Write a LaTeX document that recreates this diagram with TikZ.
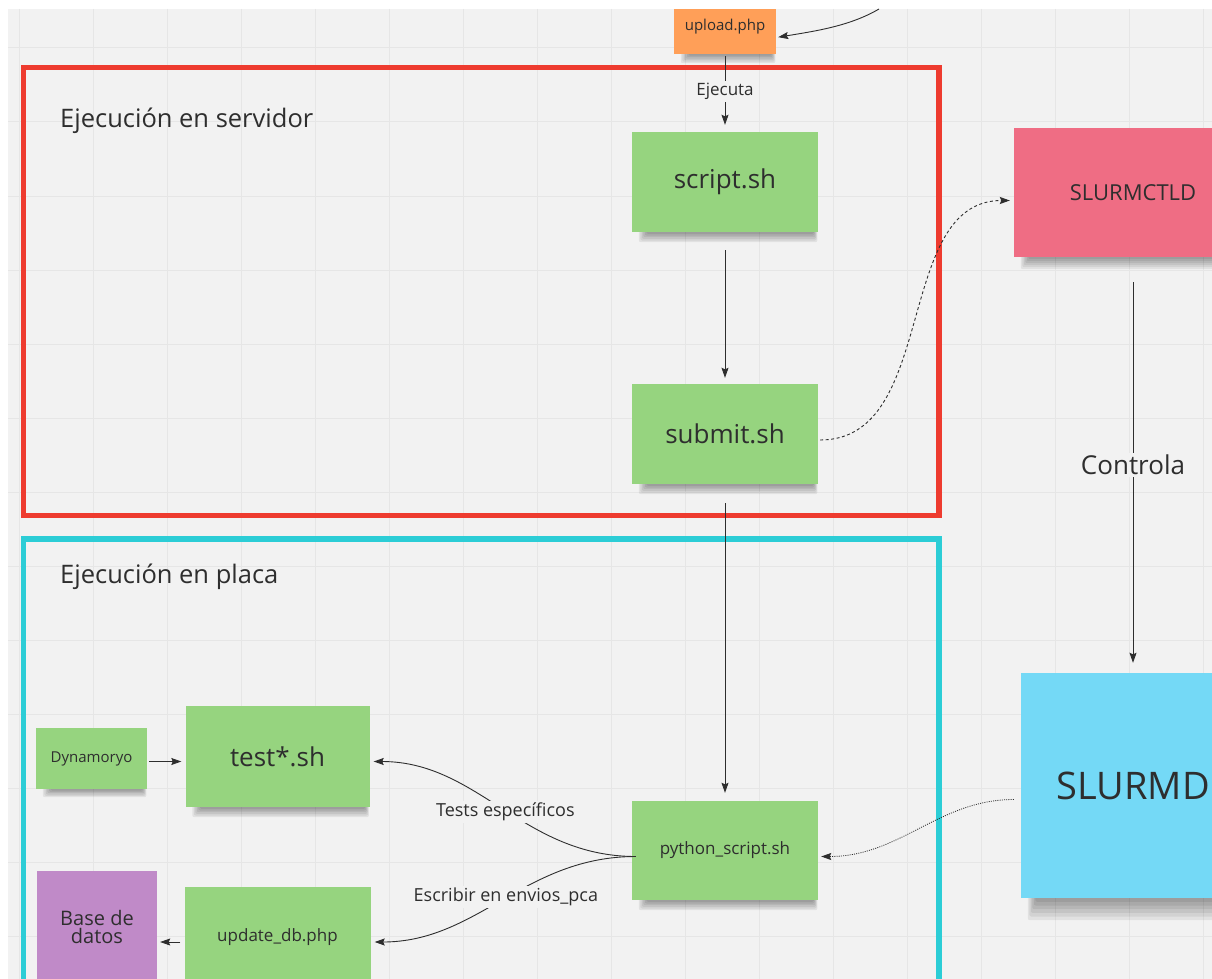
\documentclass[tikz,border=0pt]{standalone}
\usepackage{fontspec}
\setmainfont{Open Sans}
\usetikzlibrary{arrows.meta}

\definecolor{boardbg}{HTML}{F2F2F2}
\definecolor{gridline}{HTML}{E6E6E6}
\definecolor{ink}{HTML}{2E2E2E}
\definecolor{notegreen}{HTML}{96D47F}
\definecolor{noteorange}{HTML}{FF9F58}
\definecolor{notepink}{HTML}{EF6D84}
\definecolor{noteblue}{HTML}{74D9F6}
\definecolor{notepurple}{HTML}{C08AC8}
\definecolor{framered}{HTML}{EE3B2F}
\definecolor{framecyan}{HTML}{2CCDD6}

\pgfdeclarelayer{board}
\pgfdeclarelayer{shade}
\pgfsetlayers{board,shade,main}

\newcommand{\fs}[1]{\fontsize{#1}{#1}\selectfont}

% soft shadow under a sticky note: #1 node name, #2 depth below the note
\newcommand{\noteshadow}[2]{%
  \foreach \k in {1,...,6}{%
    \fill[black, opacity=0.065, rounded corners=2pt]
      ([xshift={(16-1.5*\k)*1pt}, yshift=10pt]#1.south west) rectangle
      ([xshift={(-5+0.7*\k)*1pt}, yshift={-(#2)*\k/6*1pt}]#1.south east);
  }}

\tikzset{
  note/.style={draw=none, inner sep=0pt, align=center, text=ink},
  frame/.style={line width=5.5pt},
  conn/.style={draw=ink, line width=0.9pt, -{Stealth[length=10pt,width=7pt,inset=1.5pt]}},
  dashconn/.style={conn, dash pattern=on 3pt off 2.5pt},
  dotconn/.style={conn, line width=0.8pt, dash pattern=on 1pt off 1.2pt},
  lbl/.style={fill=boardbg, inner sep=2pt, text=ink},
  title/.style={anchor=base west, inner sep=0pt, text=ink, font=\fs{25.5}},
}

\begin{document}
\begin{tikzpicture}[x=1pt,y=-1pt]
\useasboundingbox (0,0) rectangle (1212,979);

% board with grid
\begin{pgfonlayer}{board}
\fill[white] (0,0) rectangle (1212,979);
\fill[boardbg] (8,9) rectangle (1212,979);
\foreach \gx in {19,93,...,1212} \draw[gridline, line width=1pt] (\gx,9) -- (\gx,979);
\foreach \gy in {48,122,...,979} \draw[gridline, line width=1pt] (8,\gy) -- (1212,\gy);
\end{pgfonlayer}

% frames
\draw[framered, frame] (23.5,67.5) rectangle (939,515.5);
\draw[framecyan, frame] (23.5,539) rectangle (939,1010);
\node[title] (srvtitle) at (60,128) {Ejecución en servidor};
\node[title] (boardtitle) at (60,583) {Ejecución en placa};

% sticky notes
\node[note, fill=noteorange, minimum width=102pt, minimum height=45pt, font=\fs{15}] (upload) at (725,31.5) {\raisebox{13pt}{upload.php}};
\node[note, fill=notegreen, minimum width=186pt, minimum height=100pt, font=\fs{26}] (script) at (725,182) {script.sh};
\node[note, fill=notegreen, minimum width=186pt, minimum height=100pt, font=\fs{26}] (submit) at (725,434) {submit.sh};
\node[note, fill=notegreen, minimum width=186pt, minimum height=99pt, font=\fs{17}] (python) at (725,850.5) {python\_script.sh};
\node[note, fill=notegreen, minimum width=184pt, minimum height=101pt, font=\fs{26}] (test) at (277.5,756.5) {test*.sh};
\node[note, fill=notegreen, minimum width=111pt, minimum height=61pt, font=\fs{15}] (dyn) at (91.5,758.5) {Dynamoryo};
\node[note, fill=notegreen, minimum width=186pt, minimum height=100pt, font=\fs{17}] (updb) at (277.5,937) {update\_db.php};
\node[note, fill=notepurple, minimum width=120pt, minimum height=112pt, font=\fs{20}, text depth=0pt] (db) at (97,927) {Base de\\[-2pt]datos};
\node[note, fill=notepink, minimum width=238pt, minimum height=129pt, font=\fs{22}] (ctld) at (1133,192.5) {SLURMCTLD};
\node[note, fill=noteblue, minimum width=224pt, minimum height=225pt, font=\fs{38}] (slurmd) at (1133,785.5) {SLURMD};

\begin{pgfonlayer}{shade}
\noteshadow{upload}{9}
\noteshadow{script}{10}
\noteshadow{submit}{10}
\noteshadow{python}{10}
\noteshadow{test}{10}
\noteshadow{dyn}{8}
\noteshadow{ctld}{12}
\noteshadow{slurmd}{22}
\end{pgfonlayer}

% connectors
\coordinate (feed) at (879,9);
\draw[conn, shorten >=2pt] (feed) .. controls (850,26) and (816,31) .. ([yshift=-6pt]upload.east);
\draw[conn, shorten <=2pt, shorten >=7pt] (upload) -- node[lbl, font=\fs{17}, pos=0.48] {Ejecuta} (script);
\draw[conn, shorten <=18pt, shorten >=6pt] (script) -- (submit);
\draw[dashconn, shorten <=2pt, shorten >=4pt] ([yshift=-6pt]submit.east) to[out=0, in=180] ([yshift=-8pt]ctld.west);
\draw[conn, shorten <=19pt, shorten >=8pt] (submit) -- (python);
\draw[conn, shorten <=25pt, shorten >=10pt] (ctld) -- node[lbl, font=\fs{26}, pos=0.5] {Controla} (slurmd);
\draw[dotconn, shorten <=7pt, shorten >=3pt] ([yshift=-14pt]slurmd.west) to[out=180, in=0] ([yshift=-6pt]python.east);
\draw[conn, shorten <=-4pt, shorten >=4pt] ([yshift=-6pt]python.west) to[out=180, in=0]
  node[lbl, font=\fs{18}, pos=0.48] {Tests específicos} ([yshift=-5pt]test.east);
\draw[conn, shorten <=-4pt, shorten >=4pt] ([yshift=-6pt]python.west) to[out=180, in=0]
  node[lbl, font=\fs{18}, pos=0.48] {Escribir en envios\_pca} ([yshift=-5pt]updb.east);
\draw[conn, line width=0.7pt, shorten <=2pt, shorten >=4pt] ([yshift=-3pt]dyn.east) -- ([yshift=-5pt]test.west);
\draw[conn, line width=0.7pt, shorten <=4pt, shorten >=3pt] ([yshift=-5pt]updb.west) -- ([yshift=-15pt]db.east);
\end{tikzpicture}
\end{document}
